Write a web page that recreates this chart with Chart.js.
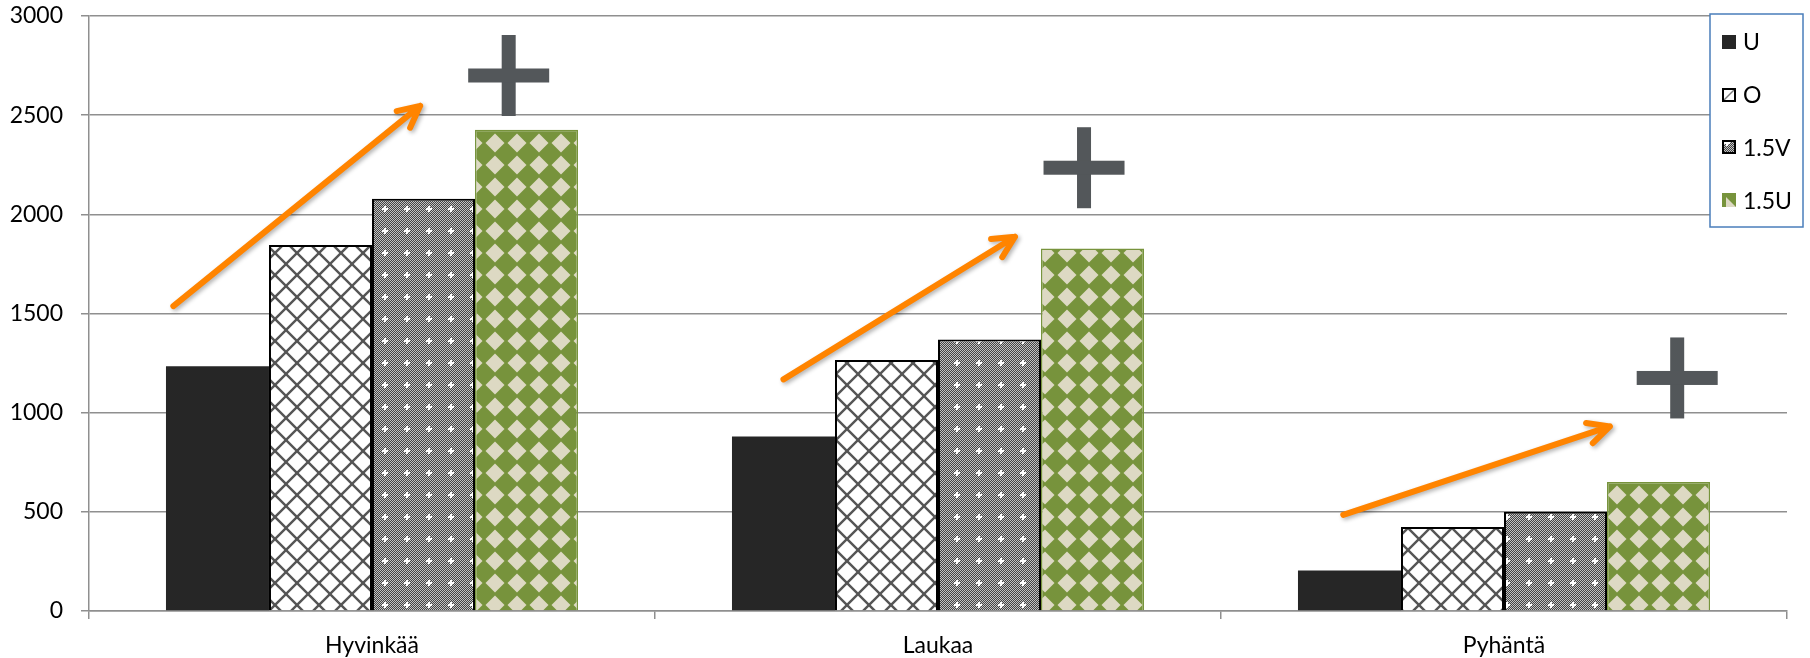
<!DOCTYPE html>
<html>
<head>
<meta charset="utf-8">
<script src="https://cdn.jsdelivr.net/npm/chart.js@4/dist/chart.umd.min.js"></script>
<style>
  html, body { margin: 0; padding: 0; background: #ffffff; }
  #wrap { width: 1810px; height: 658px; }
</style>
</head>
<body>
<div id="wrap"><canvas id="c" width="1810" height="658"></canvas></div>
<script>
// Municipalities and the four scenarios
const categories = ['Hyvinkää', 'Laukaa', 'Pyhäntä'];
const seriesNames = ['U', 'O', '1.5V', '1.5U'];
const valuesU   = [1234, 880, 204];
const valuesO   = [1845, 1265, 424];
const values15V = [2079, 1369, 501];
const values15U = [2426, 1828, 650];
const yTickValues = [0, 500, 1000, 1500, 2000, 2500, 3000];

// Trend arrows and plus marks, in data units: [category index + offset, value]
const trendArrows = [
  { from: [0 - 0.351, 1537], to: [0 + 0.085, 2547] },
  { from: [1 - 0.273, 1168], to: [1 + 0.136, 1887] },
  { from: [2 - 0.284, 485],  to: [2 + 0.187, 931] }
];
const plusMarks = [
  [0 + 0.2415, 2700],
  [1 + 0.258, 2235],
  [2 + 0.306, 1175]
];

const FONT = 'Lato, "Open Sans", sans-serif';
const GRID = '#8f8f8f';

function makePattern(size, paint) {
  const c = document.createElement('canvas');
  c.width = size; c.height = size;
  const g = c.getContext('2d');
  paint(g, size);
  return document.getElementById('c').getContext('2d').createPattern(c, 'repeat');
}

// white with a diagonal lattice
const patO = makePattern(22, (g, s) => {
  g.fillStyle = '#ffffff';
  g.fillRect(0, 0, s, s);
  g.strokeStyle = '#555555';
  g.lineWidth = 2.4;
  for (const k of [-s, 0, s]) {
    g.beginPath(); g.moveTo(k - s, -s); g.lineTo(k + 2 * s, 2 * s); g.stroke();
    g.beginPath(); g.moveTo(k + 2 * s, -s); g.lineTo(k - s, 2 * s); g.stroke();
  }
});

// fine grey checker with small white stars
const pat15V = makePattern(22, (g, s) => {
  for (let i = 0; i < s; i++) {
    for (let j = 0; j < s; j++) {
      g.fillStyle = (i + j) % 2 ? '#444444' : '#c2c2c2';
      g.fillRect(i, j, 1, 1);
    }
  }
  g.fillStyle = '#ffffff';
  g.fillRect(10, 8, 2, 6);
  g.fillRect(8, 10, 6, 2);
});

// green with beige diamonds
const pat15U = makePattern(22, (g, s) => {
  g.fillStyle = '#77933c';
  g.fillRect(0, 0, s, s);
  g.fillStyle = '#ddd9c3';
  const c = s / 2, r = 9.5;
  g.beginPath();
  g.moveTo(c, c - r); g.lineTo(c + r, c); g.lineTo(c, c + r); g.lineTo(c - r, c);
  g.closePath(); g.fill();
});

const seriesStyles = [
  { backgroundColor: '#262626', borderColor: '#262626', borderWidth: 0 },
  { backgroundColor: patO,     borderColor: '#000000', borderWidth: 2 },
  { backgroundColor: pat15V,   borderColor: '#000000', borderWidth: 2 },
  { backgroundColor: pat15U,   borderColor: '#77933c', borderWidth: 1.5 }
];
const seriesValues = [valuesU, valuesO, values15V, values15U];

const datasets = seriesNames.map((name, i) => Object.assign({
  label: name,
  data: seriesValues[i],
  categoryPercentage: 0.728,
  barPercentage: 1.0
}, seriesStyles[i]));

function catX(xs, pos) {
  const i = Math.round(pos);
  const step = xs.getPixelForValue(1) - xs.getPixelForValue(0);
  return xs.getPixelForValue(i) + (pos - i) * step;
}

const annotationPlugin = {
  id: 'trendMarks',
  afterDatasetsDraw(chart) {
    const { ctx, scales: { x: xs, y: ys } } = chart;
    // orange arrows
    ctx.save();
    ctx.strokeStyle = '#ff8400';
    ctx.lineWidth = 6;
    ctx.lineCap = 'round';
    ctx.lineJoin = 'round';
    ctx.shadowColor = 'rgba(0,0,0,0.3)';
    ctx.shadowBlur = 4;
    ctx.shadowOffsetX = 2;
    ctx.shadowOffsetY = 2;
    trendArrows.forEach(a => {
      const x1 = catX(xs, a.from[0]), y1 = ys.getPixelForValue(a.from[1]);
      const x2 = catX(xs, a.to[0]),   y2 = ys.getPixelForValue(a.to[1]);
      const ang = Math.atan2(y2 - y1, x2 - x1);
      const head = 24, spread = 0.46;
      ctx.beginPath();
      ctx.moveTo(x1, y1);
      ctx.lineTo(x2, y2);
      ctx.moveTo(x2 - head * Math.cos(ang - spread), y2 - head * Math.sin(ang - spread));
      ctx.lineTo(x2, y2);
      ctx.lineTo(x2 - head * Math.cos(ang + spread), y2 - head * Math.sin(ang + spread));
      ctx.stroke();
    });
    ctx.restore();
    // grey plus marks
    ctx.save();
    ctx.fillStyle = '#53575a';
    const size = 81, thick = 14;
    plusMarks.forEach(p => {
      const cx = catX(xs, p[0]), cy = ys.getPixelForValue(p[1]);
      ctx.fillRect(cx - thick / 2, cy - size / 2, thick, size);
      ctx.fillRect(cx - size / 2, cy - thick / 2, size, thick);
    });
    ctx.restore();
  }
};

const legendPlugin = {
  id: 'boxLegend',
  afterDraw(chart) {
    const ctx = chart.ctx;
    const bx = 1710, by = 14, bw = 93, bh = 213;
    ctx.save();
    ctx.fillStyle = '#ffffff';
    ctx.fillRect(bx, by, bw, bh);
    ctx.strokeStyle = '#4a7ebb';
    ctx.lineWidth = 1.5;
    ctx.strokeRect(bx, by, bw, bh);
    ctx.font = '23px ' + FONT;
    ctx.textBaseline = 'middle';
    ctx.textAlign = 'left';
    chart.data.datasets.forEach((ds, i) => {
      const cy = 42 + i * 52.7;
      const mx = 1722, my = Math.round(cy - 7), m = 14;
      if (i === 0) {
        ctx.fillStyle = ds.backgroundColor;
        ctx.fillRect(mx, my, m, m);
      } else if (i === 1) {
        ctx.fillStyle = '#ffffff';
        ctx.fillRect(mx, my, m, m);
        ctx.strokeStyle = '#7a7a7a';
        ctx.lineWidth = 1.5;
        ctx.beginPath(); ctx.moveTo(mx + 2, my + m - 2); ctx.lineTo(mx + m - 2, my + 2); ctx.stroke();
        ctx.strokeStyle = '#000000';
        ctx.lineWidth = 2;
        ctx.strokeRect(mx + 1, my + 1, m - 2, m - 2);
      } else if (i === 2) {
        ctx.fillStyle = ds.backgroundColor;
        ctx.fillRect(mx, my, m, m);
        ctx.strokeStyle = '#000000';
        ctx.lineWidth = 2;
        ctx.strokeRect(mx + 1, my + 1, m - 2, m - 2);
      } else {
        ctx.fillStyle = '#77933c';
        ctx.fillRect(mx, my, m, m);
        ctx.fillStyle = '#ddd9c3';
        ctx.beginPath();
        ctx.moveTo(mx + 4, my + 4); ctx.lineTo(mx + m, my + m); ctx.lineTo(mx + 4, my + m);
        ctx.closePath(); ctx.fill();
      }
      ctx.fillStyle = '#000000';
      ctx.fillText(ds.label, 1743, cy + 1);
    });
    ctx.restore();
  }
};

new Chart(document.getElementById('c'), {
  type: 'bar',
  data: { labels: categories, datasets },
  plugins: [annotationPlugin, legendPlugin],
  options: {
    responsive: false,
    animation: false,
    layout: { padding: { top: 16, right: 23, left: 0, bottom: 0 } },
    plugins: { legend: { display: false }, tooltip: { enabled: false } },
    scales: {
      x: {
        grid: { offset: true, drawOnChartArea: false, drawTicks: true, tickLength: 8, color: GRID, lineWidth: 1.5 },
        border: { display: true, color: GRID, width: 1.5 },
        ticks: { font: { family: FONT, size: 23 }, color: '#000000', padding: 13, maxRotation: 0 },
        afterFit: s => { s.height = 47; s.paddingLeft = 0; s.paddingRight = 0; }
      },
      y: {
        min: 0,
        max: 3000,
        afterBuildTicks: s => { s.ticks = yTickValues.map(v => ({ value: v })); },
        grid: { color: GRID, lineWidth: 1.5, tickLength: 8 },
        border: { display: true, color: GRID, width: 1.5 },
        ticks: { font: { family: FONT, size: 23 }, color: '#000000', padding: 18, callback: v => String(v) },
        afterFit: s => { s.width = 89; s.paddingTop = 0; s.paddingBottom = 0; }
      }
    }
  }
});
</script>
</body>
</html>
